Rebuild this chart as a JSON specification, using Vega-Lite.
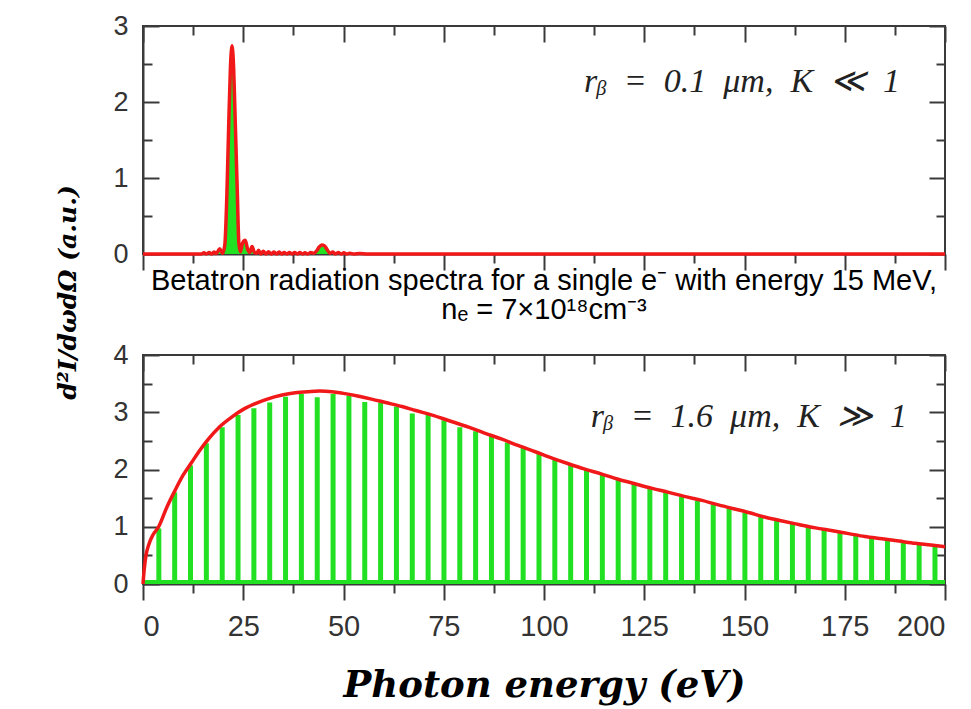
{
  "$schema": "https://vega.github.io/schema/vega-lite/v6.json",
  "background": "white",
  "padding": {"left": 54, "top": 11, "right": 5, "bottom": 5},
  "datasets": {
    "narrow": [
      {"E": 0, "I": 0}, {"E": 12, "I": 0}, {"E": 14.5, "I": 0}, {"E": 15.2, "I": 0.015}, {"E": 15.8, "I": 0},
      {"E": 16.5, "I": 0.02}, {"E": 17.1, "I": 0}, {"E": 17.7, "I": 0.025}, {"E": 18.3, "I": 0.005},
      {"E": 19.1, "I": 0.07}, {"E": 19.8, "I": 0.01}, {"E": 20.4, "I": 0.12}, {"E": 20.9, "I": 0.75},
      {"E": 21.4, "I": 1.75}, {"E": 21.8, "I": 2.45}, {"E": 22.2, "I": 2.74}, {"E": 22.6, "I": 2.45},
      {"E": 23.0, "I": 1.75}, {"E": 23.5, "I": 0.85}, {"E": 23.9, "I": 0.15}, {"E": 24.3, "I": 0.03},
      {"E": 24.8, "I": 0.14}, {"E": 25.5, "I": 0.18}, {"E": 26.1, "I": 0.06}, {"E": 26.6, "I": 0.02},
      {"E": 27.2, "I": 0.1}, {"E": 27.8, "I": 0.02}, {"E": 28.4, "I": 0.01}, {"E": 28.8, "I": 0.05},
      {"E": 29.4, "I": 0}, {"E": 30.0, "I": 0.035}, {"E": 30.7, "I": 0}, {"E": 31.3, "I": 0.03},
      {"E": 32.0, "I": 0}, {"E": 32.6, "I": 0.025}, {"E": 33.3, "I": 0}, {"E": 33.9, "I": 0.025},
      {"E": 34.6, "I": 0}, {"E": 35.2, "I": 0.02}, {"E": 35.9, "I": 0}, {"E": 36.5, "I": 0.02},
      {"E": 37.2, "I": 0}, {"E": 37.8, "I": 0.02}, {"E": 38.5, "I": 0}, {"E": 39.1, "I": 0.02},
      {"E": 39.8, "I": 0}, {"E": 40.4, "I": 0.015}, {"E": 41.1, "I": 0}, {"E": 41.8, "I": 0.02},
      {"E": 42.6, "I": 0.01}, {"E": 43.3, "I": 0.04}, {"E": 43.9, "I": 0.09}, {"E": 44.6, "I": 0.12},
      {"E": 45.2, "I": 0.11}, {"E": 45.9, "I": 0.06}, {"E": 46.6, "I": 0.01}, {"E": 47.3, "I": 0.025},
      {"E": 48.0, "I": 0}, {"E": 48.7, "I": 0.02}, {"E": 49.4, "I": 0}, {"E": 50.1, "I": 0.015},
      {"E": 50.8, "I": 0}, {"E": 51.6, "I": 0.01}, {"E": 52.5, "I": 0}, {"E": 54, "I": 0.008},
      {"E": 56, "I": 0}, {"E": 200, "I": 0}
    ],
    "envelope": [
      {"E": 0, "I": 0}, {"E": 0.3, "I": 0.25}, {"E": 0.7, "I": 0.48}, {"E": 1.5, "I": 0.7}, {"E": 2.5, "I": 0.86},
      {"E": 3.9, "I": 1.0}, {"E": 6, "I": 1.35}, {"E": 8.1, "I": 1.65}, {"E": 10, "I": 1.9}, {"E": 12.2, "I": 2.13},
      {"E": 14, "I": 2.32}, {"E": 16.4, "I": 2.54}, {"E": 19, "I": 2.74}, {"E": 22.2, "I": 2.92}, {"E": 25, "I": 3.05},
      {"E": 28, "I": 3.15}, {"E": 31, "I": 3.23}, {"E": 34.7, "I": 3.3}, {"E": 38, "I": 3.34}, {"E": 41.3, "I": 3.36},
      {"E": 44, "I": 3.37}, {"E": 47.1, "I": 3.36}, {"E": 50, "I": 3.33}, {"E": 53.8, "I": 3.28}, {"E": 57, "I": 3.23},
      {"E": 60.5, "I": 3.17}, {"E": 64.6, "I": 3.1}, {"E": 68, "I": 3.03}, {"E": 72.1, "I": 2.95}, {"E": 76, "I": 2.86},
      {"E": 81.2, "I": 2.74}, {"E": 85, "I": 2.64}, {"E": 89.5, "I": 2.53}, {"E": 93.5, "I": 2.42}, {"E": 97.8, "I": 2.31},
      {"E": 102, "I": 2.2}, {"E": 106.1, "I": 2.1}, {"E": 110, "I": 2.01}, {"E": 114.4, "I": 1.92}, {"E": 118.5, "I": 1.83},
      {"E": 122.7, "I": 1.75}, {"E": 127, "I": 1.67}, {"E": 131.1, "I": 1.6}, {"E": 135, "I": 1.53}, {"E": 139.4, "I": 1.46},
      {"E": 143, "I": 1.39}, {"E": 147, "I": 1.32}, {"E": 151, "I": 1.25}, {"E": 155, "I": 1.17}, {"E": 159.4, "I": 1.1},
      {"E": 163.5, "I": 1.04}, {"E": 167.7, "I": 0.98}, {"E": 172, "I": 0.93}, {"E": 176, "I": 0.88}, {"E": 180, "I": 0.83},
      {"E": 184.3, "I": 0.79}, {"E": 188.5, "I": 0.75}, {"E": 192.6, "I": 0.71}, {"E": 196.5, "I": 0.68}, {"E": 200, "I": 0.65}
    ],
    "spikes": [
      {"E": 3.95, "I": 0.97}, {"E": 7.9, "I": 1.6}, {"E": 11.85, "I": 2.07}, {"E": 15.8, "I": 2.46}, {"E": 19.75, "I": 2.74},
      {"E": 23.7, "I": 2.95}, {"E": 27.65, "I": 3.07}, {"E": 31.6, "I": 3.17}, {"E": 35.55, "I": 3.27}, {"E": 39.5, "I": 3.32},
      {"E": 43.45, "I": 3.26}, {"E": 47.4, "I": 3.32}, {"E": 51.35, "I": 3.29}, {"E": 55.3, "I": 3.18}, {"E": 59.25, "I": 3.17},
      {"E": 63.2, "I": 3.1}, {"E": 67.15, "I": 2.98}, {"E": 71.1, "I": 2.95}, {"E": 75.05, "I": 2.86}, {"E": 79.0, "I": 2.74},
      {"E": 82.95, "I": 2.67}, {"E": 86.9, "I": 2.6}, {"E": 90.85, "I": 2.47}, {"E": 94.8, "I": 2.4}, {"E": 98.75, "I": 2.3},
      {"E": 102.7, "I": 2.18}, {"E": 106.65, "I": 2.1}, {"E": 110.6, "I": 2.0}, {"E": 114.55, "I": 1.91}, {"E": 118.5, "I": 1.83},
      {"E": 122.45, "I": 1.75}, {"E": 126.4, "I": 1.66}, {"E": 130.35, "I": 1.6}, {"E": 134.3, "I": 1.52}, {"E": 138.25, "I": 1.45},
      {"E": 142.2, "I": 1.39}, {"E": 146.15, "I": 1.32}, {"E": 150.1, "I": 1.24}, {"E": 154.05, "I": 1.17}, {"E": 158.0, "I": 1.1},
      {"E": 161.95, "I": 1.05}, {"E": 165.9, "I": 1.0}, {"E": 169.85, "I": 0.95}, {"E": 173.8, "I": 0.9}, {"E": 177.75, "I": 0.85},
      {"E": 181.7, "I": 0.81}, {"E": 185.65, "I": 0.77}, {"E": 189.6, "I": 0.73}, {"E": 193.55, "I": 0.7}, {"E": 197.5, "I": 0.66}
    ]
  },
  "spacing": 101,
  "bounds": "flush",
  "vconcat": [
    {
      "width": 802,
      "height": 228,
      "data": {"name": "narrow"},
      "resolve": {"axis": {"x": "independent", "y": "independent"}},
      "layer": [
        {
          "mark": {"type": "area", "color": "#22e022", "opacity": 1, "interpolate": "monotone"},
          "encoding": {
            "x": {"field": "E", "type": "quantitative", "scale": {"domain": [0, 200], "nice": false},
              "axis": {"orient": "bottom", "values": [0, 12.5, 25, 37.5, 50, 62.5, 75, 87.5, 100, 112.5, 125, 137.5, 150, 162.5, 175, 187.5, 200],
                "labels": false, "title": null,
                "tickSize": {"condition": {"test": "datum.value % 25 === 0", "value": 16}, "value": 9}}},
            "y": {"field": "I", "type": "quantitative", "scale": {"domain": [0, 3], "nice": false},
              "axis": {"orient": "left", "values": [0, 0.5, 1, 1.5, 2, 2.5, 3],
                "labelExpr": "datum.value % 1 === 0 ? format(datum.value, 'd') : ''",
                "tickSize": {"condition": {"test": "datum.value % 1 === 0", "value": -16}, "value": -9},
                "labelPadding": 31, "labelFontSize": 27,
                "title": "d²I/dωdΩ (a.u.)", "titleFont": "DejaVu Serif", "titleFontSize": 25,
                "titleFontStyle": "italic", "titleFontWeight": "bold", "titleColor": "black",
                "titleX": -76, "titleY": 266, "titleAngle": -90, "titleBaseline": "middle", "titleAlign": "center"}}
          }
        },
        {
          "mark": {"type": "line", "color": "#f01818", "strokeWidth": 3.5, "interpolate": "monotone"},
          "encoding": {
            "x": {"field": "E", "type": "quantitative",
              "axis": {"orient": "top", "values": [0, 12.5, 25, 37.5, 50, 62.5, 75, 87.5, 100, 112.5, 125, 137.5, 150, 162.5, 175, 187.5, 200],
                "labels": false, "title": null, "domain": false,
                "tickSize": {"condition": {"test": "datum.value % 25 === 0", "value": -16}, "value": -9}}},
            "y": {"field": "I", "type": "quantitative",
              "axis": {"orient": "right", "values": [0, 0.5, 1, 1.5, 2, 2.5, 3],
                "labels": false, "title": null, "domain": false,
                "tickSize": {"condition": {"test": "datum.value % 1 === 0", "value": -16}, "value": -9}}}
          }
        },
        {
          "data": {"values": [{}]},
          "mark": {"type": "text", "align": "right", "baseline": "middle", "font": "Liberation Serif", "fontSize": 34, "fontStyle": "italic", "color": "#222"},
          "encoding": {
            "x": {"datum": 188.8, "type": "quantitative", "axis": null},
            "y": {"datum": 2.26, "type": "quantitative", "axis": null},
            "text": {"value": "rᵦ\u2002=\u20020.1\u2002μm,\u2002K\u2002≪\u20021"}
          }
        }
      ]
    },
    {
      "width": 802,
      "height": 229,
      "title": {
        "text": ["Betatron radiation spectra for a single e⁻ with energy 15 MeV,", "nₑ = 7×10¹⁸cm⁻³"],
        "font": "Liberation Sans", "fontSize": 29, "fontWeight": "normal", "color": "black",
        "anchor": "middle", "frame": "group", "offset": 16, "lineHeight": 29
      },
      "resolve": {"axis": {"x": "independent", "y": "independent"}},
      "layer": [
        {
          "data": {"name": "spikes"},
          "mark": {"type": "rule", "color": "#22e022", "strokeWidth": 5},
          "encoding": {
            "x": {"field": "E", "type": "quantitative", "scale": {"domain": [0, 200], "nice": false},
              "axis": {"orient": "bottom", "values": [0, 12.5, 25, 37.5, 50, 62.5, 75, 87.5, 100, 112.5, 125, 137.5, 150, 162.5, 175, 187.5, 200],
                "labelExpr": "datum.value % 25 === 0 ? datum.label : ''",
                "labelFontSize": 29, "labelPadding": 12,
                "tickSize": {"condition": {"test": "datum.value % 25 === 0", "value": 16}, "value": 9},
                "title": "Photon energy (eV)", "titleFont": "DejaVu Serif", "titleFontSize": 37,
                "titleFontStyle": "italic", "titleFontWeight": "bold", "titleColor": "black", "titlePadding": 26}},
            "y": {"field": "I", "type": "quantitative", "scale": {"domain": [0, 4], "nice": false},
              "axis": {"orient": "left", "values": [0, 0.5, 1, 1.5, 2, 2.5, 3, 3.5, 4],
                "labelExpr": "datum.value % 1 === 0 ? format(datum.value, 'd') : ''",
                "tickSize": {"condition": {"test": "datum.value % 1 === 0", "value": -16}, "value": -9},
                "labelPadding": 31, "labelFontSize": 27, "title": null}},
            "y2": {"datum": 0}
          }
        },
        {
          "data": {"values": [{}]},
          "mark": {"type": "rect", "color": "#22e022"},
          "encoding": {
            "x": {"datum": 0, "type": "quantitative", "axis": null},
            "x2": {"datum": 200},
            "y": {"datum": 0, "type": "quantitative", "axis": null},
            "y2": {"datum": 0.07}
          }
        },
        {
          "data": {"name": "envelope"},
          "mark": {"type": "line", "color": "#f01818", "strokeWidth": 3.5, "interpolate": "monotone"},
          "encoding": {
            "x": {"field": "E", "type": "quantitative",
              "axis": {"orient": "top", "values": [0, 12.5, 25, 37.5, 50, 62.5, 75, 87.5, 100, 112.5, 125, 137.5, 150, 162.5, 175, 187.5, 200],
                "labels": false, "title": null, "domain": false,
                "tickSize": {"condition": {"test": "datum.value % 25 === 0", "value": -16}, "value": -9}}},
            "y": {"field": "I", "type": "quantitative",
              "axis": {"orient": "right", "values": [0, 0.5, 1, 1.5, 2, 2.5, 3, 3.5, 4],
                "labels": false, "title": null, "domain": false,
                "tickSize": {"condition": {"test": "datum.value % 1 === 0", "value": -16}, "value": -9}}}
          }
        },
        {
          "data": {"values": [{}]},
          "mark": {"type": "text", "align": "right", "baseline": "middle", "font": "Liberation Serif", "fontSize": 34, "fontStyle": "italic", "color": "#222"},
          "encoding": {
            "x": {"datum": 190.5, "type": "quantitative", "axis": null},
            "y": {"datum": 2.92, "type": "quantitative", "axis": null},
            "text": {"value": "rᵦ\u2002=\u20021.6\u2002μm,\u2002K\u2002≫\u20021"}
          }
        }
      ]
    }
  ],
  "config": {
    "view": {"stroke": "#3a3a3a", "strokeWidth": 2},
    "axis": {"grid": false, "domainColor": "#3a3a3a", "domainWidth": 2, "tickColor": "#3a3a3a", "tickWidth": 2,
      "labelColor": "#333333", "labelFont": "Liberation Sans"}
  }
}
